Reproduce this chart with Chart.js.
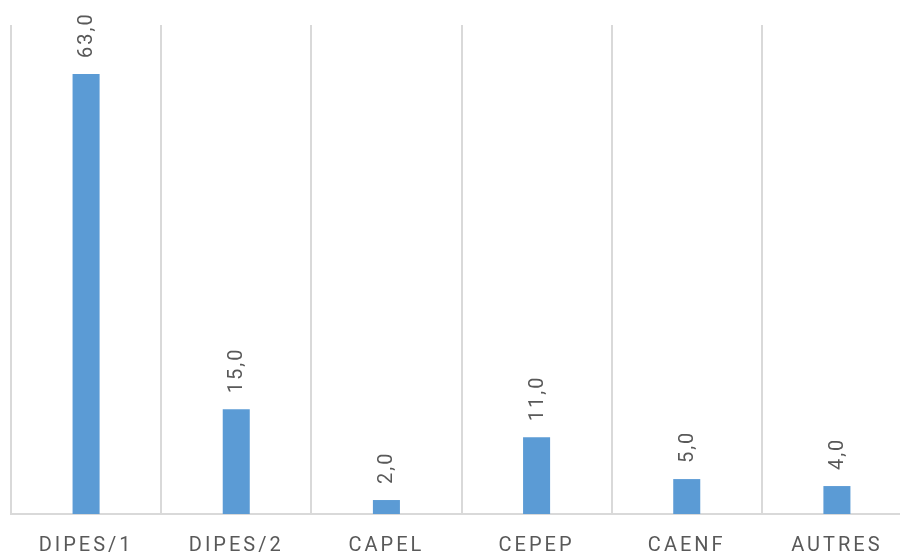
<!DOCTYPE html>
<html>
<head>
<meta charset="utf-8">
<script src="https://cdn.jsdelivr.net/npm/chart.js@4/dist/chart.umd.min.js"></script>
<style>
  html, body { margin: 0; padding: 0; background: #ffffff; overflow: hidden; }
  #wrap { position: absolute; left: 0; top: 0; width: 914px; height: 555px; }
</style>
</head>
<body>
<div id="wrap"><canvas id="c"></canvas></div>
<script>
const categories = ['DIPES/1', 'DIPES/2', 'CAPEL', 'CEPEP', 'CAENF', 'AUTRES'];
const values = [63.0, 15.0, 2.0, 11.0, 5.0, 4.0];

const textColor = '#595959';
const gridColor = '#D9D9D9';
const barColor = '#5B9BD5';

// Spaced lettering for the category labels
const spacing = {
  id: 'spacing',
  beforeDraw(chart) { chart.ctx.letterSpacing = '3px'; }
};

// Value labels drawn vertically above each bar
const valueLabels = {
  id: 'valueLabels',
  afterDatasetsDraw(chart) {
    const ctx = chart.ctx;
    const meta = chart.getDatasetMeta(0);
    ctx.save();
    ctx.letterSpacing = '2px';
    ctx.font = '20px Roboto';
    ctx.fillStyle = textColor;
    ctx.textAlign = 'left';
    ctx.textBaseline = 'middle';
    meta.data.forEach((bar, i) => {
      const txt = values[i].toFixed(1).replace('.', ',');
      ctx.save();
      ctx.translate(bar.x + 1, bar.y - 16);
      ctx.rotate(-Math.PI / 2);
      ctx.fillText(txt, 0, 0);
      ctx.restore();
    });
    ctx.restore();
  }
};

new Chart(document.getElementById('c'), {
  type: 'bar',
  data: {
    labels: categories,
    datasets: [{
      data: values,
      backgroundColor: barColor,
      borderWidth: 0,
      barPercentage: 0.18,
      categoryPercentage: 1.0
    }]
  },
  options: {
    responsive: true,
    maintainAspectRatio: false,
    animation: false,
    layout: { padding: { left: 11, right: 2, top: 25, bottom: 0 } },
    plugins: { legend: { display: false }, tooltip: { enabled: false } },
    scales: {
      x: {
        offset: true,
        afterFit(scale) { scale.height = 41; },
        grid: { display: true, offset: true, color: gridColor, lineWidth: 2, drawTicks: false },
        border: { display: true, color: gridColor, width: 2 },
        ticks: { color: textColor, font: { family: 'Roboto', size: 20 }, padding: 20, maxRotation: 0 }
      },
      y: {
        display: false,
        min: 0,
        max: 70
      }
    }
  },
  plugins: [spacing, valueLabels]
});
</script>
</body>
</html>
